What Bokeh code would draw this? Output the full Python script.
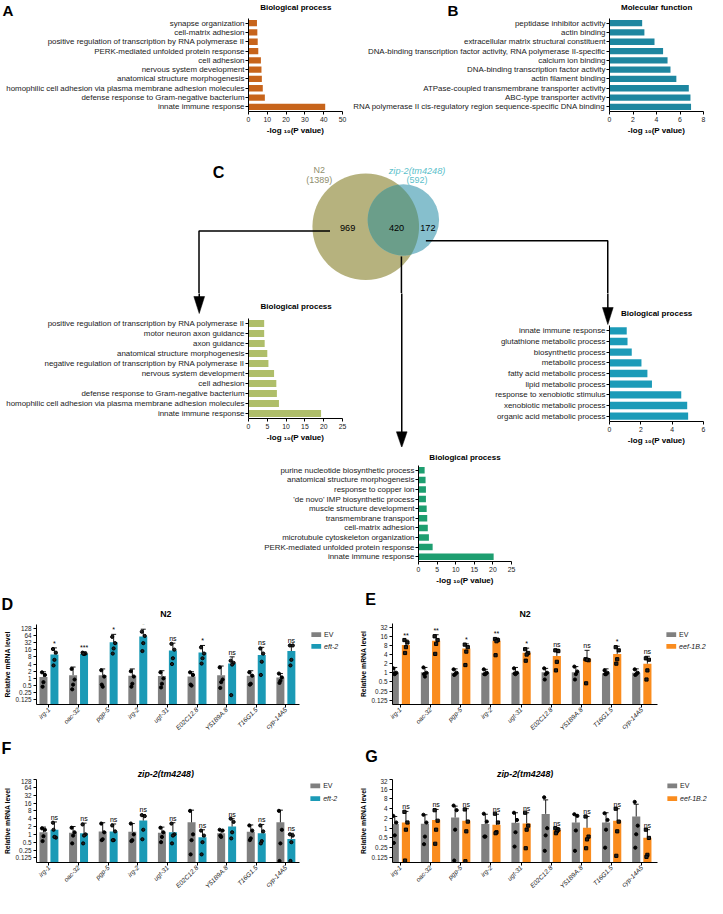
import math
import numpy as np
from bokeh.plotting import figure
from bokeh.models import (Range1d, FactorRange, FixedTicker, SingleIntervalTicker,
                          ColumnDataSource, CustomJSTickFormatter)
from bokeh.layouts import row, column
from bokeh.transform import dodge
from bokeh.core.properties import value
from bokeh.embed import file_html
from bokeh.resources import INLINE

# ---------------- data ----------------
A_TERMS = ["synapse organization", "cell-matrix adhesion",
           "positive regulation of transcription by RNA polymerase II",
           "PERK-mediated unfolded protein response", "cell adhesion",
           "nervous system development", "anatomical structure morphogenesis",
           "homophilic cell adhesion via plasma membrane adhesion molecules",
           "defense response to Gram-negative bacterium", "innate immune response"]
A_VALS = [4.5, 4.7, 4.9, 5.2, 6.6, 6.9, 7.1, 7.6, 8.7, 40.8]

B_TERMS = ["peptidase inhibitor activity", "actin binding",
           "extracellular matrix structural constituent",
           "DNA-binding transcription factor activity, RNA polymerase II-specific",
           "calcium ion binding", "DNA-binding transcription factor activity",
           "actin filament binding", "ATPase-coupled transmembrane transporter activity",
           "ABC-type transporter activity",
           "RNA polymerase II cis-regulatory region sequence-specific DNA binding"]
B_VALS = [2.78, 2.97, 3.83, 4.56, 4.94, 5.19, 5.69, 6.75, 6.89, 6.94]

L_TERMS = ["positive regulation of transcription by RNA polymerase II",
           "motor neuron axon guidance", "axon guidance",
           "anatomical structure morphogenesis",
           "negative regulation of transcription by RNA polymerase II",
           "nervous system development", "cell adhesion",
           "defense response to Gram-negative bacterium",
           "homophilic cell adhesion via plasma membrane adhesion molecules",
           "innate immune response"]
L_VALS = [4.17, 4.17, 4.3, 5.0, 5.3, 6.8, 7.4, 7.55, 8.1, 19.3]

R_TERMS = ["innate immune response", "glutathione metabolic process",
           "biosynthetic process", "metabolic process", "fatty acid metabolic process",
           "lipid metabolic process", "response to xenobiotic stimulus",
           "xenobiotic metabolic process", "organic acid metabolic process"]
R_VALS = [1.1, 1.15, 1.42, 2.04, 2.42, 2.71, 4.58, 4.96, 5.02]

M_TERMS = ["purine nucleotide biosynthetic process", "anatomical structure morphogenesis",
           "response to copper ion", "'de novo' IMP biosynthetic process",
           "muscle structure development", "transmembrane transport",
           "cell-matrix adhesion", "microtubule cytoskeleton organization",
           "PERK-mediated unfolded protein response", "innate immune response"]
M_VALS = [1.65, 1.9, 2.0, 2.0, 2.2, 2.35, 2.5, 2.8, 3.8, 20.2]

VENN_N2_TOTAL = "1389"
VENN_ZIP_TOTAL = "592"
VENN_COUNTS = ["969", "420", "172"]

GENES = ["irg-1", "oac-32", "pgp-5", "irg-2", "ugt-31", "E02C12.8", "Y51B9A.8", "T16G1.5", "cyp-14A5"]

D_EV_MEAN = [1.16, 1.37, 1.35, 1.3, 1.25, 1.2, 1.37, 1.3, 1.1]
D_EV_TOP = [1.9, 3.0, 2.5, 2.5, 2.1, 1.9, 3.3, 2.1, 1.6]
D_EV_PTS = [[1.8, 1.4, 0.7, 0.45], [2.5, 0.9, 0.55, 0.35], [2.2, 1.2, 0.45, 0.55],
            [2.0, 1.2, 0.6, 0.45], [1.8, 1.0, 0.6, 0.42], [1.8, 1.4, 0.5, 0.55],
            [2.9, 0.9, 0.7, 0.4], [1.8, 1.3, 0.6, 0.55], [1.6, 1.1, 0.8, 0.65]]
D_TR_MEAN = [10, 10.5, 33, 57, 14.7, 12.3, 4.2, 9.5, 14]
D_TR_TOP = [19, 13, 70, 115, 30, 24, 8, 20, 25]
D_TR_PTS = [[17, 12, 6, 3.5], [12, 11, 10.5, 11], [55, 30, 18, 11], [90, 60, 30, 14],
            [28, 16, 7, 4], [20, 11, 7, 4.2], [5.5, 4.5, 3.8, 0.2], [18, 11, 5, 1.4],
            [24, 24, 6, 3.5]]
D_SIG = ["*", "***", "*", "*", "ns", "*", "ns", "ns", "ns"]

E_EV_MEAN = [1.0, 1.05, 1.0, 1.0, 1.0, 1.05, 1.05, 0.97, 1.0]
E_EV_TOP = [1.5, 1.5, 1.35, 1.3, 1.5, 1.4, 1.6, 1.35, 1.35]
E_EV_PTS = [[1.4, 1.0, 0.9, 0.95], [1.5, 1.0, 0.75, 0.9], [1.3, 1.0, 0.9, 0.85],
            [1.3, 1.0, 0.9, 0.9], [1.4, 1.0, 0.9, 0.95], [1.4, 1.0, 0.9, 0.6],
            [1.6, 1.1, 0.9, 0.6], [1.2, 1.0, 0.9, 0.9], [1.3, 1.0, 0.9, 0.85]]
E_TR_MEAN = [8.2, 11.5, 6.3, 11.3, 4.6, 3.6, 2.9, 4.2, 2.0]
E_TR_TOP = [12, 18, 9, 14, 6.5, 6, 5.5, 7.5, 3.5]
E_TR_PTS = [[12, 10, 7, 4.5], [16, 12, 9, 4.2], [8.5, 7, 5, 1.8], [13, 12, 11, 3.8],
            [6, 4.5, 4, 2.5], [5.5, 5.2, 2.3, 1.2], [2.8, 2.6, 2.7, 0.45],
            [7, 5.5, 2.8, 2.0], [3.0, 2.7, 1.2, 0.6]]
E_SIG = ["**", "**", "*", "**", "*", "ns", "ns", "*", "ns"]

F_EV_MEAN = [1.2, 1.15, 1.3, 1.25, 1.15, 2.9, 1.1, 1.25, 2.9]
F_EV_TOP = [1.9, 2.0, 2.8, 2.6, 1.9, 8.5, 1.5, 2.3, 8.5]
F_EV_PTS = [[1.7, 1.5, 0.85, 0.55], [1.8, 1.2, 0.9, 0.45], [2.6, 1.2, 0.65, 0.6],
            [2.6, 1.0, 0.6, 0.55], [1.8, 1.2, 0.8, 0.5], [8.0, 1.0, 0.6, 0.17],
            [1.5, 1.4, 0.8, 0.9], [2.2, 1.4, 0.7, 0.6], [8.0, 1.5, 0.45, 0.095]]
F_TR_MEAN = [1.5, 1.1, 1.3, 3.4, 1.2, 0.78, 2.0, 1.1, 0.67]
F_TR_TOP = [3.0, 2.7, 2.5, 5.8, 2.8, 1.5, 4.0, 2.4, 1.1]
F_TR_PTS = [[2.8, 0.75, 0.8, 1.5], [2.4, 1.0, 0.9, 0.45], [2.2, 1.3, 0.6, 0.6],
            [5.5, 5.0, 1.5, 0.65], [2.6, 1.0, 0.9, 0.45], [1.4, 0.9, 0.5, 0.17],
            [4.0, 3.0, 1.2, 0.7], [2.2, 1.3, 0.55, 0.45], [1.0, 0.9, 0.5, 0.095]]
F_SIG = ["ns", "ns", "ns", "ns", "ns", "ns", "ns", "ns", "ns"]

G_EV_MEAN = [1.35, 1.37, 2.15, 1.35, 1.47, 2.77, 1.5, 1.5, 2.3]
G_EV_TOP = [2.3, 2.6, 4.8, 2.7, 3.0, 7.5, 2.6, 3.0, 5.5]
G_EV_PTS = [[2.4, 1.5, 0.6, 0.35], [2.6, 1.5, 0.55, 0.32], [5.0, 3.6, 0.9, 0.1],
            [2.8, 1.6, 0.55, 0.55], [3.0, 1.8, 0.75, 0.27], [9.0, 1.0, 0.6, 0.2],
            [2.7, 2.4, 0.85, 0.2], [2.9, 1.8, 0.9, 0.25], [6.5, 1.2, 0.65, 0.25]]
G_TR_MEAN = [1.5, 1.78, 1.7, 1.27, 1.4, 0.88, 1.03, 1.7, 0.51]
G_TR_TOP = [3.3, 3.8, 4.0, 2.7, 3.0, 1.05, 2.3, 4.0, 0.9]
G_TR_PTS = [[3.2, 1.5, 0.9, 0.1], [3.6, 1.7, 0.9, 0.33], [3.8, 1.6, 0.8, 0.095],
            [2.8, 1.5, 0.75, 0.7], [3.0, 1.2, 0.9, 0.24], [1.0, 0.9, 0.8, 0.7],
            [2.3, 0.55, 0.45, 0.24], [4.0, 1.6, 0.8, 0.14], [0.9, 0.5, 0.15, 0.13]]
G_SIG = ["ns", "ns", "ns", "ns", "ns", "ns", "ns", "ns", "ns"]

TICKS_128 = [0.125, 0.25, 0.5, 1, 2, 4, 8, 16, 32, 64, 128]
TICKS_32 = [0.125, 0.25, 0.5, 1, 2, 4, 8, 16, 32]

# ---------------- style ----------------
S = 0.978
FONT = "Liberation Sans"


def sc(v):
    return int(round(v * S))


def fs(v):
    return f"{v * S:.2f}px"


GREY = "#808080"
TEAL = "#1b9ab6"
ORANGE = "#fa8c1e"
A_COL = "#c7641b"
B_COL = "#1d86a0"
L_COL = "#afbe6a"
R_COL = "#1c9bb8"
M_COL = "#1e9e70"
OFF = 0.185
BW = 0.27
JIT = [-0.05, 0.05, 0.0, -0.03]


def base_fig(box, frame, title=None, **kw):
    x0, y0, x1, y1 = box
    fl, ft, fr, fb = frame
    p = figure(width=sc(x1) - sc(x0), height=sc(y1) - sc(y0),
               min_border_left=sc(fl) - sc(x0), min_border_right=sc(x1) - sc(fr),
               min_border_top=sc(ft) - sc(y0), min_border_bottom=sc(y1) - sc(fb),
               toolbar_location=None, output_backend="svg", title=title,
               frame_align=False, **kw)
    p.outline_line_color = None
    p.xgrid.visible = False
    p.ygrid.visible = False
    return p


def style_ax(ax):
    ax.axis_line_color = "black"
    ax.axis_line_width = 1
    ax.major_tick_line_color = "black"
    ax.major_tick_in = 0
    ax.major_tick_out = 3
    ax.minor_tick_line_color = None
    ax.major_label_text_font = FONT
    ax.major_label_text_color = "#1a1a1a"
    ax.axis_label_text_font = FONT
    ax.axis_label_text_font_style = "bold"
    ax.axis_label_text_color = "black"


def go_chart(box, frame, terms, vals, color, xmax, step, title=None, standoff=6):
    p = base_fig(box, frame, title=title, x_range=Range1d(0, xmax),
                 y_range=FactorRange(factors=list(reversed(terms))))
    src = ColumnDataSource(dict(term=terms, val=vals))
    p.hbar(y="term", left=0, right="val", height=0.68, source=src,
           fill_color=color, line_color=None)
    xa = p.xaxis[0]
    ya = p.yaxis[0]
    style_ax(xa)
    style_ax(ya)
    ya.major_label_text_font_size = fs(8.1)
    ya.major_label_standoff = 1
    xa.major_label_text_font_size = fs(7.0)
    xa.major_label_standoff = 2
    xa.ticker = SingleIntervalTicker(interval=step, num_minor_ticks=0)
    xa.axis_label = "-log ₁₀(P value)"
    xa.axis_label_text_font_size = fs(8.2)
    xa.axis_label_standoff = 1
    if title:
        p.title.align = "center"
        p.title.text_font = FONT
        p.title.text_font_size = fs(8.2)
        p.title.text_font_style = "bold"
        p.title.text_color = "black"
        p.title.standoff = standoff
    return p


def flat(pts, off):
    xs, ys = [], []
    for i, vals in enumerate(pts):
        for j, v in enumerate(vals):
            xs.append(i + off + JIT[j % len(JIT)])
            ys.append(v)
    return xs, ys


def qpcr(box, frame, ev_mean, ev_top, ev_pts, tr_mean, tr_top, tr_pts, sig, color,
         ymin, ymax, ticks, xpad, tr_marker):
    n = len(GENES)
    p = base_fig(box, frame, x_range=Range1d(-xpad[0], n - 1 + xpad[1]),
                 y_range=Range1d(ymin, ymax), y_axis_type="log")
    idx = list(range(n))
    src = ColumnDataSource(dict(x=idx, ev=ev_mean, evt=ev_top, tr=tr_mean, trt=tr_top, sig=sig))
    xe = dodge("x", -OFF)
    xt = dodge("x", OFF)
    p.vbar(x=xe, top="ev", bottom=ymin, width=BW, source=src, fill_color=GREY, line_color=None)
    p.vbar(x=xt, top="tr", bottom=ymin, width=BW, source=src, fill_color=color, line_color=None)
    for xx, lo, hi in ((xe, "ev", "evt"), (xt, "tr", "trt")):
        p.segment(x0=xx, y0=lo, x1=xx, y1=hi, source=src, line_color="black", line_width=0.9)
        p.scatter(x=xx, y=hi, source=src, marker="dash", size=sc(5),
                  line_color="black", line_width=0.9)
    ex, ey = flat(ev_pts, -OFF)
    p.scatter(ex, ey, marker="circle", size=3.2, fill_color="black", line_color="black")
    tx, ty = flat(tr_pts, OFF)
    p.scatter(tx, ty, marker=tr_marker, size=3.2, fill_color="#222222", line_color="black")
    p.text(x=xt, y="trt", text="sig", source=src, text_align="center", text_baseline="bottom",
           text_font=value(FONT), text_font_size=fs(7.2), y_offset=-1, text_color="black")
    xa = p.xaxis[0]
    ya = p.yaxis[0]
    style_ax(xa)
    style_ax(ya)
    xa.ticker = FixedTicker(ticks=idx)
    xa.formatter = CustomJSTickFormatter(args=dict(names=GENES),
                                         code="return names[Math.round(tick)] || '';")
    xa.major_label_orientation = math.pi / 4
    xa.major_label_text_font_style = "italic"
    xa.major_label_text_font_size = fs(6.6)
    xa.major_label_standoff = 1
    ya.ticker = FixedTicker(ticks=ticks)
    ya.formatter = CustomJSTickFormatter(code="return String(Math.round(tick*1000)/1000);")
    ya.major_label_text_font_size = fs(6.5)
    ya.major_label_standoff = 2
    ya.axis_label = "Relative mRNA level"
    ya.axis_label_text_font_size = fs(7.0)
    ya.axis_label_standoff = 2
    return p


# ---------------- decoration figures (letters, titles, Venn, arrows, legends) ----------------
ARROW_XS = [[337, 203, 203], [410, 410], [435, 621, 621]]
ARROW_YS = [[236, 236, 306], [262, 443], [246, 246, 317]]
HEAD_XS = [[197.5, 208.5, 203], [404.5, 415.5, 410], [615.5, 626.5, 621]]
HEAD_YS = [[303, 303, 320], [441, 441, 457], [314, 314, 331]]


def deco(box):
    x0, y0, x1, y1 = box
    p = figure(width=sc(x1) - sc(x0), height=sc(y1) - sc(y0),
               x_range=Range1d(x0, x1), y_range=Range1d(y1, y0),
               min_border=0, toolbar_location=None, output_backend="svg", title=None,
               x_axis_location=None, y_axis_location=None, frame_align=False)
    p.outline_line_color = None
    p.grid.visible = False
    return p


def add_arrows(p):
    p.multi_line(ARROW_XS, ARROW_YS, line_color="black", line_width=1.5)
    p.patches(HEAD_XS, HEAD_YS, fill_color="black", line_color="black", line_width=0.5)


def deco_text(p, x, y, t, size, color="black", style="normal", align="center"):
    p.text(x=[x], y=[y], text=[t], text_font=value(FONT), text_font_size=fs(size),
           text_font_style=style, text_color=color, text_align=align,
           text_baseline="middle")


def legend_strip(box, sw_x, y_ev, y_tr, color, name):
    p = deco(box)
    p.quad(left=[sw_x, sw_x], right=[sw_x + 10, sw_x + 10], top=[y_ev, y_tr],
           bottom=[y_ev + 5, y_tr + 5], fill_color=[GREY, color], line_color=None)
    deco_text(p, sw_x + 13, y_ev + 2.5, "EV", 7.2, color="#1a1a1a", align="left")
    deco_text(p, sw_x + 13, y_tr + 2.5, name, 7.2, color="#1a1a1a", style="italic",
              align="left")
    return p


# ---------------- build ----------------
d1 = deco((0, 0, 723, 18))
deco_text(d1, 2, 9.5, "A", 15.5, style="bold", align="left")
deco_text(d1, 302, 7, "Biological process", 8.2, style="bold")
deco_text(d1, 457, 9.5, "B", 15.5, style="bold", align="left")
deco_text(d1, 671, 7, "Molecular function", 8.2, style="bold")

pA = go_chart((0, 18, 355, 140), (254, 18, 350, 117), A_TERMS, A_VALS, A_COL, 50, 10)
pB = go_chart((355, 18, 723, 140), (623, 18, 719, 117), B_TERMS, B_VALS, B_COL, 8, 2)

# Venn
dtop = deco((0, 140, 723, 300))
C1 = (373.5, 231.5, 54.5)
C2 = (412.0, 224.5, 36.5)
dtop.circle(x=[C1[0]], y=[C1[1]], radius=C1[2], fill_color="#b6b27e", line_color=None)
dtop.circle(x=[C2[0]], y=[C2[1]], radius=C2[2], fill_color="#86bfcd", line_color=None)
th = np.linspace(0, 2 * np.pi, 720, endpoint=False)
sx, sy = C2[0] + C2[2] * np.cos(th), C2[1] + C2[2] * np.sin(th)
bx, by = C1[0] + C1[2] * np.cos(th), C1[1] + C1[2] * np.sin(th)
in_big = (sx - C1[0]) ** 2 + (sy - C1[1]) ** 2 <= C1[2] ** 2
in_small = (bx - C2[0]) ** 2 + (by - C2[1]) ** 2 <= C2[2] ** 2
lx_ = np.concatenate([sx[in_big], bx[in_small]])
ly_ = np.concatenate([sy[in_big], by[in_small]])
cx, cy = lx_.mean(), ly_.mean()
order = np.argsort(np.arctan2(ly_ - cy, lx_ - cx))
dtop.patch(list(lx_[order]), list(ly_[order]), fill_color="#6b9e8a", line_color=None)
add_arrows(dtop)
deco_text(dtop, 223, 175, "C", 16.5, style="bold")
deco_text(dtop, 326, 173, "N2", 9.2, color="#8f8f6e")
deco_text(dtop, 326, 184, "(" + VENN_N2_TOTAL + ")", 9.2, color="#8f8f6e")
deco_text(dtop, 426, 174, "zip-2(tm4248)", 9.4, color="#5cbfcb", style="italic")
deco_text(dtop, 426, 184, "(" + VENN_ZIP_TOTAL + ")", 9.2, color="#5cbfcb")
deco_text(dtop, 355, 233, VENN_COUNTS[0], 9.4)
deco_text(dtop, 405, 233, VENN_COUNTS[1], 9.4)
deco_text(dtop, 437, 233, VENN_COUNTS[2], 9.4)

dL = deco((0, 300, 380, 322))
add_arrows(dL)
deco_text(dL, 302, 313, "Biological process", 8.2, style="bold")
pL = go_chart((0, 322, 380, 457), (254, 325, 350, 427), L_TERMS, L_VALS, L_COL, 25, 5)

dM = deco((380, 300, 460, 457))
add_arrows(dM)

dR = deco((460, 300, 723, 332))
add_arrows(dR)
deco_text(dR, 671, 320, "Biological process", 8.2, style="bold")
pR = go_chart((460, 332, 723, 457), (623, 332, 719, 433), R_TERMS, R_VALS, R_COL, 6, 2)

pM = go_chart((0, 457, 723, 600), (427, 474, 523, 574), M_TERMS, M_VALS, M_COL, 25, 5,
              title="Biological process", standoff=7)

d3 = deco((0, 600, 723, 634))
deco_text(d3, 1, 617, "D", 16.5, style="bold", align="left")
deco_text(d3, 169, 627, "N2", 9.0, style="bold")
deco_text(d3, 373, 612, "E", 16.5, style="bold", align="left")
deco_text(d3, 536.5, 627, "N2", 9.0, style="bold")

pD = qpcr((0, 634, 312, 753), (32, 638, 306, 727), D_EV_MEAN, D_EV_TOP, D_EV_PTS,
          D_TR_MEAN, D_TR_TOP, D_TR_PTS, D_SIG, TEAL, 0.081, 2 ** 7.5, TICKS_128,
          (0.42, 0.46), "circle")
legD = legend_strip((312, 634, 360, 753), 318, 646, 658, TEAL, "eft-2")
pE = qpcr((360, 634, 676, 753), (401, 637, 672, 725), E_EV_MEAN, E_EV_TOP, E_EV_PTS,
          E_TR_MEAN, E_TR_TOP, E_TR_PTS, E_SIG, ORANGE, 0.09, 2 ** 5.4, TICKS_32,
          (0.26, 0.52), "square")
legE = legend_strip((676, 634, 723, 753), 681, 646, 658, ORANGE, "eef-1B.2")

d4 = deco((0, 753, 723, 796))
deco_text(d4, 1, 765, "F", 16.5, style="bold", align="left")
deco_text(d4, 169, 791, "zip-2(tm4248)", 9.0, style="bold italic")
deco_text(d4, 373, 773, "G", 16.5, style="bold", align="left")
deco_text(d4, 536.5, 791, "zip-2(tm4248)", 9.0, style="bold italic")

pF = qpcr((0, 796, 312, 914), (32, 797, 306, 882), F_EV_MEAN, F_EV_TOP, F_EV_PTS,
          F_TR_MEAN, F_TR_TOP, F_TR_PTS, F_SIG, TEAL, 0.083, 128, TICKS_128,
          (0.42, 0.46), "circle")
legF = legend_strip((312, 796, 360, 914), 317, 801, 814, TEAL, "eft-2")
pG = qpcr((360, 796, 676, 914), (401, 797, 672, 882), G_EV_MEAN, G_EV_TOP, G_EV_PTS,
          G_TR_MEAN, G_TR_TOP, G_TR_PTS, G_SIG, ORANGE, 0.087, 32, TICKS_32,
          (0.26, 0.52), "square")
legG = legend_strip((676, 796, 723, 914), 682, 801, 814, ORANGE, "eef-1B.2")

layout = column(
    d1,
    row(pA, pB),
    dtop,
    row(column(dL, pL), dM, column(dR, pR)),
    pM,
    d3,
    row(pD, legD, pE, legE),
    d4,
    row(pF, legF, pG, legG),
)

open("out.html", "w").write(file_html(layout, INLINE))
